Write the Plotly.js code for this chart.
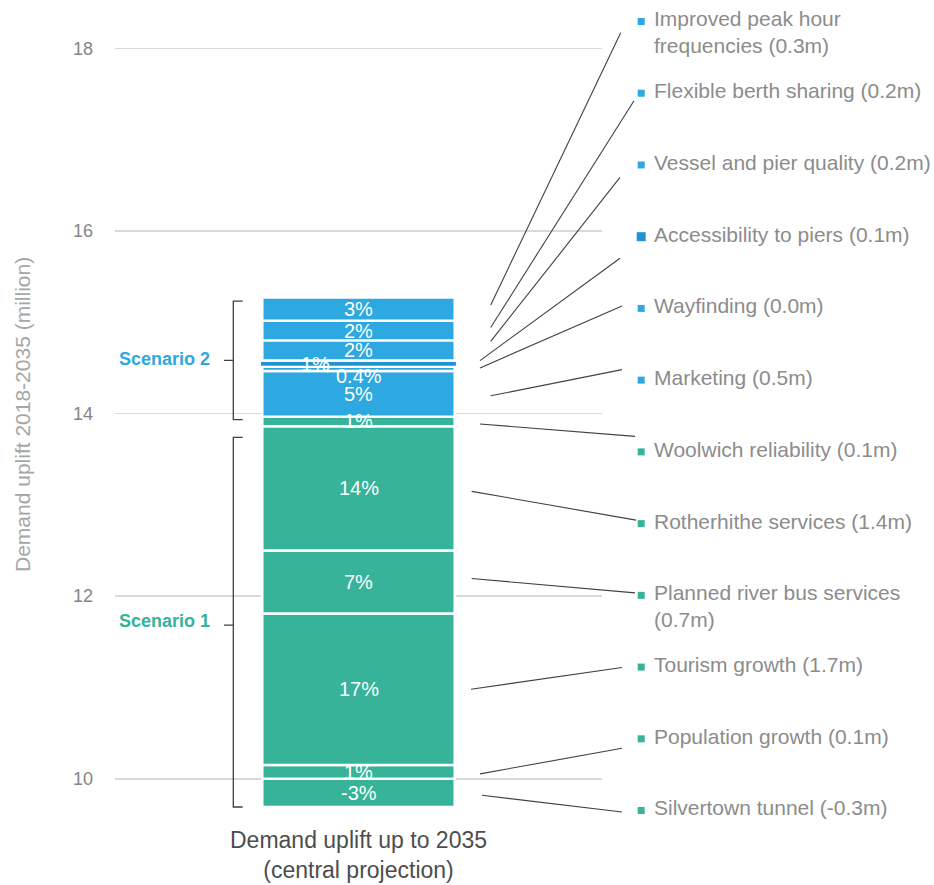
<!DOCTYPE html>
<html><head><meta charset="utf-8">
<script src="https://cdn.plot.ly/plotly-3.0.1.min.js"></script>
<style>html,body{margin:0;padding:0;background:#fff}#chart{width:934px;height:885px}</style>
</head><body><div id="chart"></div>
<script>
// ---------------- DATA (bottom of bar to top) ----------------
const baseLevel = 10;
const segmentNames = ['Silvertown tunnel', 'Population growth', 'Tourism growth', 'Planned river bus services',
  'Rotherhithe services', 'Woolwich reliability', 'Marketing', 'Wayfinding', 'Accessibility to piers',
  'Vessel and pier quality', 'Flexible berth sharing', 'Improved peak hour frequencies'];
const segmentValues = [-0.31, 0.15, 1.66, 0.69, 1.36, 0.106, 0.50, 0.045, 0.07, 0.22, 0.215, 0.255];
const segmentPct = ['-3%', '1%', '17%', '7%', '14%', '1%', '5%', '0.4%', '1%', '2%', '2%', '3%'];
const segmentScenario = [1, 1, 1, 1, 1, 1, 2, 2, 2, 2, 2, 2];
const legendLabels = ['Silvertown tunnel (-0.3m)', 'Population growth (0.1m)', 'Tourism growth (1.7m)',
  'Planned river bus services<br>(0.7m)', 'Rotherhithe services (1.4m)', 'Woolwich reliability (0.1m)',
  'Marketing (0.5m)', 'Wayfinding (0.0m)', 'Accessibility to piers (0.1m)', 'Vessel and pier quality (0.2m)',
  'Flexible berth sharing (0.2m)', 'Improved peak hour<br>frequencies (0.3m)'];
const scenarioNames = ['Scenario 1', 'Scenario 2'];
const yTickVals = [10, 12, 14, 16, 18];
const yTickText = ['10', '12', '14', '16', '18'];
const xTitle = 'Demand uplift up to 2035<br>(central projection)';
const yTitle = 'Demand uplift 2018-2035 (million)';

// ---------------- STYLE / LAYOUT CONSTANTS ----------------
const W = 934, H = 885;
const M = {l: 115, r: 332, t: 16, b: 78};
const plotW = W - M.l - M.r, plotH = H - M.t - M.b;
const pxPerUnit = 91.3;
const FONT = 'Liberation Sans, Arial, sans-serif';
const scenarioColor = {1: '#36b398', 2: '#2ea8e0'};
const accentBlue = '#2193d3';
const barWidth = 0.395;
// leader line geometry (pixels)
const leaderStartX = [482, 480, 471, 471.7, 471.7, 480, 490.7, 480, 480, 490.7, 490.7, 490.7];
const leaderStartDy = [2.4, 2, 0, -3.4, 3, 2.5, 2, -1, -3, -9, -3, -4];
const leaderEndX = [622, 622, 622, 635, 636, 635, 622, 622, 620, 620, 634, 620.7];
const leaderEndDy = [3, 11, 2, -1, -2, -14, -9, -1, 23, 14, 9, 12.7];
const labelTopPx = 20, labelStepPx = 71.73;
const labelTextX = 651.7, squareX = 641.2;
const pctShiftX = [0, 0, 0, 0, 0, 0, 0, 0, -43, 0, 0, 0];
const pctShiftY = [0, 0, 0, 0, 0, 0, 0, -7.5, 0, 0, 0, 0];

// ---------------- COMPUTE ----------------
const n = segmentValues.length;
const bases = [], lows = [], highs = [];
let cum = baseLevel;
for (let k = 0; k < n; k++) {
  const v = segmentValues[k];
  if (v < 0) { bases.push(baseLevel); lows.push(baseLevel + v); highs.push(baseLevel); }
  else { bases.push(cum); lows.push(cum); highs.push(cum + v); cum += v; }
}
const mids = lows.map((lo, k) => (lo + highs[k]) / 2);
const yMin = Math.min(...lows);
const yMax = yMin + plotH / pxPerUnit;

const pxFromData = v => M.t + plotH - (v - yMin) * pxPerUnit;
const pyPaper = py => (M.t + plotH - py) / plotH;
const pxPaper = px => (px - M.l) / plotW;

const traces = segmentValues.map((v, k) => ({
  type: 'bar', x: [0], y: [v], base: [bases[k]], width: [k === 8 ? barWidth + 0.01 : barWidth],
  name: segmentNames[k],
  marker: {color: k === 8 ? accentBlue : scenarioColor[segmentScenario[k]], line: {color: '#ffffff', width: 2.4}},
  hoverinfo: 'skip', showlegend: false
}));

const annotations = [];
const shapes = [];

// percentage labels inside bar
for (let k = 0; k < n; k++) {
  annotations.push({xref: 'x', yref: 'y', x: 0, y: mids[k], text: segmentPct[k], showarrow: false,
    xshift: pctShiftX[k], yshift: pctShiftY[k], font: {family: FONT, size: 20, color: '#ffffff'}});
}

// right-hand labels, squares and leader lines
for (let k = 0; k < n; k++) {
  const row = n - 1 - k;
  const cy = labelTopPx + row * labelStepPx;
  const col = k === 8 ? accentBlue : scenarioColor[segmentScenario[k]];
  annotations.push({xref: 'paper', yref: 'paper', x: pxPaper(labelTextX), y: pyPaper(cy - 14.6),
    xanchor: 'left', yanchor: 'top', align: 'left', text: legendLabels[k], showarrow: false,
    font: {family: FONT, size: 21, color: '#8c8c8c'}});
  const sq = k === 8 ? 4.5 : 3.5;
  shapes.push({type: 'rect', xref: 'paper', yref: 'paper', xsizemode: 'pixel', ysizemode: 'pixel',
    xanchor: pxPaper(squareX), yanchor: pyPaper(cy + 1.5), x0: -sq, x1: sq, y0: -sq, y1: sq,
    fillcolor: col, line: {width: 0}});
  const sy = pxFromData(mids[k]) + leaderStartDy[k];
  const ey = cy + leaderEndDy[k];
  shapes.push({type: 'line', xref: 'paper', yref: 'paper',
    x0: pxPaper(leaderStartX[k]), y0: pyPaper(sy), x1: pxPaper(leaderEndX[k]), y1: pyPaper(ey),
    line: {color: '#404040', width: 1.1}});
}

// scenario brackets
const bracketTopOff = {1: 20.8, 2: 3.6}, bracketBotOff = {1: 0, 2: 3.1}, bracketMidOff = {1: 3, 2: 0};
const bracketX = 233.3, hookX = 242.7, tickX = 224, scenarioTextX = 212;
[1, 2].forEach(s => {
  const idx = segmentScenario.map((sc, k) => sc === s ? k : -1).filter(k => k >= 0);
  const lo = Math.min(...idx.map(k => lows[k])), hi = Math.max(...idx.map(k => highs[k]));
  const top = pxFromData(hi) + bracketTopOff[s];
  const bot = pxFromData(lo) + bracketBotOff[s];
  const mid = (top + bot) / 2 + bracketMidOff[s];
  const X = pxPaper, Y = pyPaper;
  shapes.push({type: 'path', xref: 'paper', yref: 'paper',
    path: `M ${X(hookX)} ${Y(top)} L ${X(bracketX)} ${Y(top)} L ${X(bracketX)} ${Y(bot)} L ${X(hookX)} ${Y(bot)} M ${X(bracketX)} ${Y(mid)} L ${X(tickX)} ${Y(mid)}`,
    line: {color: '#404040', width: 1.3}});
  annotations.push({xref: 'paper', yref: 'paper', x: X(scenarioTextX), y: Y(mid - (s === 1 ? 4 : 1)),
    xanchor: 'right', yanchor: 'middle', text: '<b>' + scenarioNames[s - 1] + '</b>', showarrow: false,
    font: {family: FONT, size: 18, color: s === 1 ? '#36b398' : '#2ea8e0'}});
});

// axis titles
annotations.push({xref: 'paper', yref: 'paper', x: 0.5, y: pyPaper(825), xanchor: 'center', yanchor: 'top',
  text: xTitle, showarrow: false, font: {family: FONT, size: 23, color: '#4d4d4d'}});
annotations.push({xref: 'paper', yref: 'paper', x: pxPaper(22), y: pyPaper(415), xanchor: 'center', yanchor: 'middle',
  textangle: -90, text: yTitle, showarrow: false, font: {family: FONT, size: 21, color: '#a6a6a6'}});

const layout = {
  width: W, height: H, margin: M, paper_bgcolor: '#ffffff', plot_bgcolor: '#ffffff',
  barmode: 'overlay', showlegend: false,
  xaxis: {range: [-0.5, 0.5], showgrid: false, zeroline: false, showticklabels: false, showline: false, fixedrange: true},
  yaxis: {range: [yMin, yMax], tickvals: yTickVals, ticktext: yTickText, showgrid: true, gridcolor: '#d9d9d9', gridwidth: 1.6,
    zeroline: false, showline: false, ticks: '', ticklabelstandoff: 21,
    tickfont: {family: FONT, size: 18, color: '#858585'}},
  annotations: annotations, shapes: shapes, font: {family: FONT}
};
Plotly.newPlot('chart', traces, layout, {staticPlot: true, displayModeBar: false});
</script></body></html>
